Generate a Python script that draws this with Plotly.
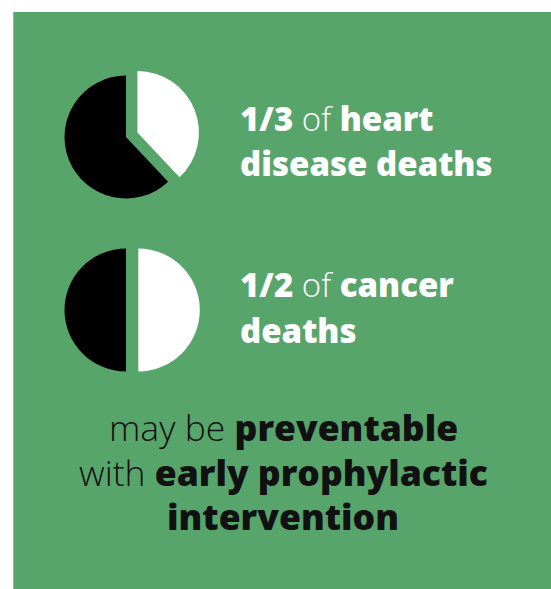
import plotly.graph_objects as go

W, H = 551, 589

# data
pie_labels = ["preventable", "other"]
heart_values = [38, 62]
cancer_values = [50, 50]
slice_colors = ["#ffffff", "#000000"]
pull_values = [0.2, 0]

GREEN = "rgb(88,165,108)"
FONT = "Open Sans"


def px_x(x):
    return x / W


def px_y(y):
    return 1 - y / H


def domain(cx, cy, r, pull):
    half = r * (1 + pull)
    return dict(x=[px_x(cx - half), px_x(cx + half)],
                y=[px_y(cy + half), px_y(cy - half)])


fig = go.Figure()
for vals, (cx, cy) in [(heart_values, (126, 137)), (cancer_values, (126, 310))]:
    fig.add_trace(go.Pie(
        labels=pie_labels, values=vals, sort=False, direction="clockwise",
        rotation=0, pull=pull_values,
        marker=dict(colors=slice_colors, line=dict(width=0)),
        textinfo="none", hoverinfo="skip", showlegend=False,
        domain=domain(cx, cy, 61.5, 0.2),
    ))

B = "<span style='font-weight:800'>{}</span>"
L = "<span style='font-weight:300'>{}</span>"

top_size = 33
bot_size = 35.5

lines = [
    # (text, x, baseline, anchor, size, color)
    (B.format("1/3") + " " + L.format("of") + " " + B.format("heart"), 238, 131, "left", top_size, "white"),
    (B.format("disease deaths"), 238, 176.7, "left", top_size, "white"),
    (B.format("1/2") + " " + L.format("of") + " " + B.format("cancer"), 238, 297.3, "left", top_size, "white"),
    (B.format("deaths"), 238, 343.3, "left", top_size, "white"),
    (L.format("may be") + " " + B.format("preventable"), 283, 441, "center", bot_size, "#111111"),
    (L.format("with") + " " + B.format("early prophylactic"), 283, 486, "center", bot_size, "#111111"),
    (B.format("intervention"), 283, 530, "center", bot_size, "#111111"),
]
for text, x, base, anchor, size, color in lines:
    fig.add_annotation(xref="paper", yref="paper", showarrow=False, text=text,
                       x=px_x(x), y=px_y(base - 0.388 * size),
                       xanchor=anchor, yanchor="middle",
                       font=dict(family=FONT, size=size, color=color))

fig.add_shape(type="rect", xref="paper", yref="paper", layer="below",
              x0=px_x(13.3), x1=1, y0=0, y1=px_y(12),
              fillcolor=GREEN, line=dict(width=0))

fig.update_layout(width=W, height=H, margin=dict(l=0, r=0, t=0, b=0),
                  paper_bgcolor="white", plot_bgcolor="white")
fig.write_html("out.html")
